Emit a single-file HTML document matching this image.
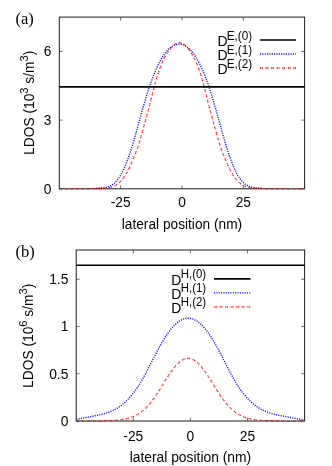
<!DOCTYPE html>
<html><head><meta charset="utf-8"><style>
html,body{margin:0;padding:0;background:#fff;}
svg{display:block;will-change:transform}
text{font-family:"Liberation Sans",sans-serif;fill:#000}
.ser{font-family:"Liberation Serif",serif}
</style></head><body>
<svg width="332" height="466" viewBox="0 0 332 466">
<rect width="332" height="466" fill="#fff"/>
<path d="M96.30,188.24 L96.80,188.22 L97.30,188.21 L97.80,188.19 L98.30,188.17 L98.80,188.15 L99.30,188.13 L99.80,188.11 L100.30,188.08 L100.80,188.05 L101.30,188.02 L101.80,187.98 L102.30,187.93 L102.80,187.88 L103.30,187.83 L103.80,187.76 L104.30,187.69 L104.80,187.61 L105.30,187.52 L105.80,187.41 L106.30,187.30 L106.80,187.17 L107.30,187.04 L107.80,186.88 L108.30,186.72 L108.80,186.53 L109.30,186.33 L109.80,186.12 L110.30,185.88 L110.80,185.63 L111.30,185.35 L111.80,185.06 L112.30,184.74 L112.80,184.40 L113.30,184.03 L113.80,183.64 L114.30,183.22 L114.80,182.77 L115.30,182.29 L115.80,181.78 L116.30,181.25 L116.80,180.68 L117.30,180.08 L117.80,179.44 L118.30,178.77 L118.80,178.07 L119.30,177.33 L119.80,176.56 L120.30,175.75 L120.80,174.90 L121.30,174.02 L121.80,173.10 L122.30,172.14 L122.80,171.15 L123.30,170.12 L123.80,169.05 L124.30,167.94 L124.80,166.80 L125.30,165.62 L125.80,164.41 L126.30,163.15 L126.80,161.87 L127.30,160.54 L127.80,159.19 L128.30,157.79 L128.80,156.37 L129.30,154.91 L129.80,153.42 L130.30,151.90 L130.80,150.35 L131.30,148.78 L131.80,147.17 L132.30,145.54 L132.80,143.88 L133.30,142.21 L133.80,140.51 L134.30,138.79 L134.80,137.05 L135.30,135.30 L135.80,133.53 L136.30,131.76 L136.80,129.97 L137.30,128.17 L137.80,126.37 L138.30,124.57 L138.80,122.76 L139.30,120.96 L139.80,119.15 L140.30,117.35 L140.80,115.56 L141.30,113.77 L141.80,112.00 L142.30,110.23 L142.80,108.47 L143.30,106.73 L143.80,105.00 L144.30,103.29 L144.80,101.59 L145.30,99.91 L145.80,98.25 L146.30,96.61 L146.80,94.99 L147.30,93.39 L147.80,91.82 L148.30,90.26 L148.80,88.73 L149.30,87.23 L149.80,85.75 L150.30,84.30 L150.80,82.87 L151.30,81.47 L151.80,80.09 L152.30,78.74 L152.80,77.42 L153.30,76.13 L153.80,74.86 L154.30,73.62 L154.80,72.40 L155.30,71.22 L155.80,70.06 L156.30,68.92 L156.80,67.82 L157.30,66.74 L157.80,65.68 L158.30,64.65 L158.80,63.65 L159.30,62.68 L159.80,61.73 L160.30,60.80 L160.80,59.91 L161.30,59.03 L161.80,58.19 L162.30,57.37 L162.80,56.58 L163.30,55.81 L163.80,55.06 L164.30,54.35 L164.80,53.65 L165.30,52.99 L165.80,52.34 L166.30,51.73 L166.80,51.13 L167.30,50.57 L167.80,50.02 L168.30,49.51 L168.80,49.01 L169.30,48.54 L169.80,48.10 L170.30,47.68 L170.80,47.28 L171.30,46.91 L171.80,46.57 L172.30,46.24 L172.80,45.94 L173.30,45.67 L173.80,45.42 L174.30,45.19 L174.80,44.98 L175.30,44.80 L175.80,44.64 L176.30,44.51 L176.80,44.40 L177.30,44.31 L177.80,44.24 L178.30,44.20 L178.80,44.18 L179.30,44.18 L179.80,44.18 L180.30,44.21 L180.80,44.26 L181.30,44.34 L181.80,44.44 L182.30,44.56 L182.80,44.70 L183.30,44.87 L183.80,45.06 L184.30,45.28 L184.80,45.51 L185.30,45.77 L185.80,46.06 L186.30,46.37 L186.80,46.70 L187.30,47.06 L187.80,47.44 L188.30,47.85 L188.80,48.27 L189.30,48.73 L189.80,49.21 L190.30,49.71 L190.80,50.24 L191.30,50.79 L191.80,51.37 L192.30,51.97 L192.80,52.60 L193.30,53.25 L193.80,53.93 L194.30,54.63 L194.80,55.36 L195.30,56.11 L195.80,56.89 L196.30,57.69 L196.80,58.52 L197.30,59.38 L197.80,60.26 L198.30,61.17 L198.80,62.10 L199.30,63.06 L199.80,64.05 L200.30,65.06 L200.80,66.10 L201.30,67.16 L201.80,68.26 L202.30,69.37 L202.80,70.52 L203.30,71.69 L203.80,72.89 L204.30,74.11 L204.80,75.36 L205.30,76.64 L205.80,77.95 L206.30,79.28 L206.80,80.64 L207.30,82.03 L207.80,83.44 L208.30,84.88 L208.80,86.34 L209.30,87.83 L209.80,89.34 L210.30,90.88 L210.80,92.44 L211.30,94.03 L211.80,95.63 L212.30,97.26 L212.80,98.91 L213.30,100.58 L213.80,102.27 L214.30,103.97 L214.80,105.69 L215.30,107.42 L215.80,109.17 L216.30,110.93 L216.80,112.71 L217.30,114.49 L217.80,116.28 L218.30,118.07 L218.80,119.88 L219.30,121.68 L219.80,123.49 L220.30,125.29 L220.80,127.09 L221.30,128.89 L221.80,130.68 L222.30,132.47 L222.80,134.24 L223.30,136.00 L223.80,137.75 L224.30,139.48 L224.80,141.19 L225.30,142.88 L225.80,144.55 L226.30,146.20 L226.80,147.82 L227.30,149.41 L227.80,150.98 L228.30,152.51 L228.80,154.02 L229.30,155.50 L229.80,156.94 L230.30,158.36 L230.80,159.73 L231.30,161.08 L231.80,162.39 L232.30,163.66 L232.80,164.90 L233.30,166.10 L233.80,167.26 L234.30,168.39 L234.80,169.48 L235.30,170.53 L235.80,171.55 L236.30,172.53 L236.80,173.47 L237.30,174.38 L237.80,175.24 L238.30,176.08 L238.80,176.87 L239.30,177.63 L239.80,178.35 L240.30,179.04 L240.80,179.70 L241.30,180.32 L241.80,180.91 L242.30,181.47 L242.80,181.99 L243.30,182.49 L243.80,182.95 L244.30,183.39 L244.80,183.80 L245.30,184.18 L245.80,184.54 L246.30,184.87 L246.80,185.18 L247.30,185.47 L247.80,185.73 L248.30,185.98 L248.80,186.21 L249.30,186.42 L249.80,186.61 L250.30,186.79 L250.80,186.95 L251.30,187.09 L251.80,187.23 L252.30,187.35 L252.80,187.46 L253.30,187.55 L253.80,187.64 L254.30,187.72 L254.80,187.79 L255.30,187.85 L255.80,187.90 L256.30,187.95 L256.80,187.99 L257.30,188.03 L257.80,188.06 L258.30,188.09 L258.80,188.12 L259.30,188.14 L259.80,188.16 L260.30,188.18 L260.80,188.20 L261.30,188.21 L261.80,188.23 L262.30,188.25" fill="none" stroke="#0000ff" stroke-width="1.35" stroke-dasharray="1.1,1.25"/>
<rect x="59.3" y="17.1" width="245.30" height="171.70" fill="none" stroke="#1a1a1a" stroke-width="1"/>
<path d="M59.30,189.00 L59.80,189.00 L60.30,189.00 L60.80,189.00 L61.30,189.00 L61.80,189.00 L62.30,189.00 L62.80,189.00 L63.30,189.00 L63.80,189.00 L64.30,189.00 L64.80,189.00 L65.30,189.00 L65.80,189.00 L66.30,189.00 L66.80,189.00 L67.30,189.00 L67.80,189.00 L68.30,189.00 L68.80,189.00 L69.30,189.00 L69.80,189.00 L70.30,189.00 L70.80,189.00 L71.30,189.00 L71.80,189.00 L72.30,189.00 L72.80,189.00 L73.30,189.00 L73.80,189.00 L74.30,189.00 L74.80,189.00 L75.30,189.00 L75.80,189.00 L76.30,189.00 L76.80,189.00 L77.30,189.00 L77.80,189.00 L78.30,189.00 L78.80,189.00 L79.30,189.00 L79.80,189.00 L80.30,189.00 L80.80,189.00 L81.30,189.00 L81.80,189.00 L82.30,189.00 L82.80,189.00 L83.30,189.00 L83.80,189.00 L84.30,189.00 L84.80,189.00 L85.30,189.00 L85.80,189.00 L86.30,189.00 L86.80,189.00 L87.30,189.00 L87.80,189.00 L88.30,189.00 L88.80,188.96 L89.30,188.91 L89.80,188.86 L90.30,188.82 L90.80,188.78 L91.30,188.74 L91.80,188.71 L92.30,188.68 L92.80,188.65 L93.30,188.62 L93.80,188.60 L94.30,188.58 L94.80,188.56 L95.30,188.54 L95.80,188.52 L96.30,188.51 L96.80,188.49 L97.30,188.48 L97.80,188.47 L98.30,188.45 L98.80,188.44 L99.30,188.43 L99.80,188.41 L100.30,188.40 L100.80,188.38 L101.30,188.36 L101.80,188.34 L102.30,188.32 L102.80,188.30 L103.30,188.27 L103.80,188.23 L104.30,188.20 L104.80,188.15 L105.30,188.11 L105.80,188.05 L106.30,188.00 L106.80,187.93 L107.30,187.86 L107.80,187.78 L108.30,187.69 L108.80,187.59 L109.30,187.49 L109.80,187.37 L110.30,187.24 L110.80,187.10 L111.30,186.96 L111.80,186.79 L112.30,186.62 L112.80,186.43 L113.30,186.23 L113.80,186.01 L114.30,185.78 L114.80,185.53 L115.30,185.26 L115.80,184.97 L116.30,184.67 L116.80,184.35 L117.30,184.01 L117.80,183.64 L118.30,183.26 L118.80,182.85 L119.30,182.42 L119.80,181.96 L120.30,181.48 L120.80,180.98 L121.30,180.45 L121.80,179.89 L122.30,179.30 L122.80,178.68 L123.30,178.03 L123.80,177.36 L124.30,176.65 L124.80,175.91 L125.30,175.14 L125.80,174.34 L126.30,173.50 L126.80,172.63 L127.30,171.73 L127.80,170.79 L128.30,169.81 L128.80,168.80 L129.30,167.76 L129.80,166.69 L130.30,165.58 L130.80,164.46 L131.30,163.33 L131.80,162.20 L132.30,161.06 L132.80,159.93 L133.30,158.79 L133.80,157.64 L134.30,156.48 L134.80,155.30 L135.30,154.08 L135.80,152.82 L136.30,151.50 L136.80,150.13 L137.30,148.71 L137.80,147.22 L138.30,145.67 L138.80,144.07 L139.30,142.42 L139.80,140.72 L140.30,139.00 L140.80,137.24 L141.30,135.47 L141.80,133.68 L142.30,131.88 L142.80,130.08 L143.30,128.28 L143.80,126.47 L144.30,124.67 L144.80,122.88 L145.30,121.09 L145.80,119.30 L146.30,117.50 L146.80,115.71 L147.30,113.91 L147.80,112.10 L148.30,110.27 L148.80,108.42 L149.30,106.54 L149.80,104.63 L150.30,102.66 L150.80,100.66 L151.30,98.61 L151.80,96.54 L152.30,94.45 L152.80,92.38 L153.30,90.33 L153.80,88.33 L154.30,86.37 L154.80,84.46 L155.30,82.62 L155.80,80.83 L156.30,79.09 L156.80,77.42 L157.30,75.80 L157.80,74.23 L158.30,72.72 L158.80,71.26 L159.30,69.85 L159.80,68.48 L160.30,67.16 L160.80,65.89 L161.30,64.65 L161.80,63.46 L162.30,62.31 L162.80,61.20 L163.30,60.13 L163.80,59.09 L164.30,58.09 L164.80,57.13 L165.30,56.20 L165.80,55.30 L166.30,54.44 L166.80,53.60 L167.30,52.80 L167.80,52.03 L168.30,51.29 L168.80,50.58 L169.30,49.90 L169.80,49.25 L170.30,48.62 L170.80,48.03 L171.30,47.47 L171.80,46.93 L172.30,46.42 L172.80,45.95 L173.30,45.50 L173.80,45.08 L174.30,44.70 L174.80,44.34 L175.30,44.02 L175.80,43.72 L176.30,43.46 L176.80,43.24 L177.30,43.04 L177.80,42.88 L178.30,42.76 L178.80,42.67 L179.30,42.64 L179.80,42.70 L180.30,42.81 L180.80,42.94 L181.30,43.12 L181.80,43.32 L182.30,43.56 L182.80,43.84 L183.30,44.14 L183.80,44.48 L184.30,44.85 L184.80,45.25 L185.30,45.68 L185.80,46.14 L186.30,46.62 L186.80,47.14 L187.30,47.69 L187.80,48.26 L188.30,48.87 L188.80,49.50 L189.30,50.17 L189.80,50.86 L190.30,51.58 L190.80,52.33 L191.30,53.12 L191.80,53.93 L192.30,54.78 L192.80,55.66 L193.30,56.57 L193.80,57.51 L194.30,58.49 L194.80,59.50 L195.30,60.55 L195.80,61.64 L196.30,62.77 L196.80,63.93 L197.30,65.14 L197.80,66.39 L198.30,67.68 L198.80,69.02 L199.30,70.40 L199.80,71.84 L200.30,73.32 L200.80,74.85 L201.30,76.44 L201.80,78.08 L202.30,79.78 L202.80,81.53 L203.30,83.35 L203.80,85.22 L204.30,87.14 L204.80,89.12 L205.30,91.15 L205.80,93.21 L206.30,95.29 L206.80,97.37 L207.30,99.43 L207.80,101.46 L208.30,103.45 L208.80,105.40 L209.30,107.30 L209.80,109.17 L210.30,111.01 L210.80,112.83 L211.30,114.63 L211.80,116.43 L212.30,118.22 L212.80,120.01 L213.30,121.80 L213.80,123.60 L214.30,125.39 L214.80,127.19 L215.30,129.00 L215.80,130.80 L216.30,132.60 L216.80,134.40 L217.30,136.18 L217.80,137.95 L218.30,139.69 L218.80,141.41 L219.30,143.08 L219.80,144.72 L220.30,146.30 L220.80,147.82 L221.30,149.28 L221.80,150.69 L222.30,152.03 L222.80,153.33 L223.30,154.57 L223.80,155.77 L224.30,156.95 L224.80,158.10 L225.30,159.24 L225.80,160.38 L226.30,161.52 L226.80,162.65 L227.30,163.79 L227.80,164.91 L228.30,166.03 L228.80,167.12 L229.30,168.18 L229.80,169.21 L230.30,170.21 L230.80,171.17 L231.30,172.09 L231.80,172.98 L232.30,173.84 L232.80,174.66 L233.30,175.45 L233.80,176.21 L234.30,176.94 L234.80,177.63 L235.30,178.30 L235.80,178.93 L236.30,179.54 L236.80,180.11 L237.30,180.66 L237.80,181.18 L238.30,181.68 L238.80,182.15 L239.30,182.59 L239.80,183.02 L240.30,183.41 L240.80,183.79 L241.30,184.15 L241.80,184.48 L242.30,184.79 L242.80,185.09 L243.30,185.37 L243.80,185.63 L244.30,185.87 L244.80,186.10 L245.30,186.31 L245.80,186.51 L246.30,186.69 L246.80,186.86 L247.30,187.02 L247.80,187.16 L248.30,187.29 L248.80,187.42 L249.30,187.53 L249.80,187.63 L250.30,187.73 L250.80,187.81 L251.30,187.89 L251.80,187.96 L252.30,188.02 L252.80,188.08 L253.30,188.13 L253.80,188.17 L254.30,188.21 L254.80,188.25 L255.30,188.28 L255.80,188.31 L256.30,188.33 L256.80,188.35 L257.30,188.37 L257.80,188.39 L258.30,188.40 L258.80,188.42 L259.30,188.43 L259.80,188.45 L260.30,188.46 L260.80,188.47 L261.30,188.48 L261.80,188.50 L262.30,188.51 L262.80,188.53 L263.30,188.55 L263.80,188.56 L264.30,188.58 L264.80,188.61 L265.30,188.63 L265.80,188.66 L266.30,188.69 L266.80,188.72 L267.30,188.76 L267.80,188.80 L268.30,188.84 L268.80,188.88 L269.30,188.93 L269.80,188.98 L270.30,189.00 L270.80,189.00 L271.30,189.00 L271.80,189.00 L272.30,189.00 L272.80,189.00 L273.30,189.00 L273.80,189.00 L274.30,189.00 L274.80,189.00 L275.30,189.00 L275.80,189.00 L276.30,189.00 L276.80,189.00 L277.30,189.00 L277.80,189.00 L278.30,189.00 L278.80,189.00 L279.30,189.00 L279.80,189.00 L280.30,189.00 L280.80,189.00 L281.30,189.00 L281.80,189.00 L282.30,189.00 L282.80,189.00 L283.30,189.00 L283.80,189.00 L284.30,189.00 L284.80,189.00 L285.30,189.00 L285.80,189.00 L286.30,189.00 L286.80,189.00 L287.30,189.00 L287.80,189.00 L288.30,189.00 L288.80,189.00 L289.30,189.00 L289.80,189.00 L290.30,189.00 L290.80,189.00 L291.30,189.00 L291.80,189.00 L292.30,189.00 L292.80,189.00 L293.30,189.00 L293.80,189.00 L294.30,189.00 L294.80,189.00 L295.30,189.00 L295.80,189.00 L296.30,189.00 L296.80,189.00 L297.30,189.00 L297.80,189.00 L298.30,189.00 L298.80,189.00 L299.30,189.00 L299.80,189.00 L300.30,189.00 L300.80,189.00 L301.30,189.00 L301.80,189.00 L302.30,189.00 L302.80,189.00 L303.30,189.00 L303.80,189.00 L304.30,189.00" fill="none" stroke="#ff0000" stroke-width="1.2" stroke-dasharray="1.2,0.5,1.2,2.65"/>
<line x1="59.3" x2="304.6" y1="86.85" y2="86.85" stroke="#000" stroke-width="1.6"/>
<path d="M120.62,188.8 v-3.4 M120.62,17.1 v3.4" stroke="#444" stroke-width="0.8"/>
<text transform="translate(120.62,207.20) scale(0.98,1.05)" font-size="14" text-anchor="middle">-25</text>
<path d="M181.95,188.8 v-3.4 M181.95,17.1 v3.4" stroke="#444" stroke-width="0.8"/>
<text transform="translate(181.95,207.20) scale(0.98,1.05)" font-size="14" text-anchor="middle">0</text>
<path d="M243.28,188.8 v-3.4 M243.28,17.1 v3.4" stroke="#444" stroke-width="0.8"/>
<text transform="translate(243.28,207.20) scale(0.98,1.05)" font-size="14" text-anchor="middle">25</text>
<path d="M59.3,188.80 h3.4 M304.6,188.80 h-3.4" stroke="#444" stroke-width="0.8"/>
<text transform="translate(51.50,193.70) scale(0.98,1.05)" font-size="14" text-anchor="end">0</text>
<path d="M59.3,120.12 h3.4 M304.6,120.12 h-3.4" stroke="#444" stroke-width="0.8"/>
<text transform="translate(51.50,125.02) scale(0.98,1.05)" font-size="14" text-anchor="end">3</text>
<path d="M59.3,51.44 h3.4 M304.6,51.44 h-3.4" stroke="#444" stroke-width="0.8"/>
<text transform="translate(51.50,56.34) scale(0.98,1.05)" font-size="14" text-anchor="end">6</text>
<text transform="translate(181.95,228.60) scale(0.98,1.05)" font-size="14" text-anchor="middle">lateral position (nm)</text>
<text transform="translate(34,102.8) rotate(-90) scale(0.985,1.02)" font-size="14" text-anchor="middle">LDOS (10<tspan dy="-6.0" font-size="11.3">3</tspan><tspan dy="6.0"> s/m</tspan><tspan dy="-6.0" font-size="11.3">3</tspan><tspan dy="6.0">)</tspan></text>
<text class="ser" x="15.5" y="23.9" font-size="16.5">(a)</text>
<text transform="translate(217.50,46.40) scale(1.0,1.05)" font-size="14" text-anchor="start">D</text>
<text transform="translate(226.80,40.10) scale(1.02,1.05)" font-size="11.5" text-anchor="start">E,(0)</text>
<line x1="260" x2="296" y1="40.0" y2="40.0" stroke="#000" stroke-width="1.6"/>
<text transform="translate(217.50,60.40) scale(1.0,1.05)" font-size="14" text-anchor="start">D</text>
<text transform="translate(226.80,54.10) scale(1.02,1.05)" font-size="11.5" text-anchor="start">E,(1)</text>
<line x1="260" x2="296" y1="54.0" y2="54.0" stroke="#0000ff" stroke-width="1.3" stroke-dasharray="1.1,1.25"/>
<text transform="translate(217.50,74.40) scale(1.0,1.05)" font-size="14" text-anchor="start">D</text>
<text transform="translate(226.80,68.10) scale(1.02,1.05)" font-size="11.5" text-anchor="start">E,(2)</text>
<line x1="260" x2="296" y1="68.0" y2="68.0" stroke="#ff0000" stroke-width="1.3" stroke-dasharray="1.2,0.5,1.2,2.65"/>
<path d="M76.20,419.26 L76.70,419.18 L77.20,419.09 L77.70,419.00 L78.20,418.91 L78.70,418.82 L79.20,418.73 L79.70,418.64 L80.20,418.55 L80.70,418.45 L81.20,418.36 L81.70,418.27 L82.20,418.18 L82.70,418.08 L83.20,417.99 L83.70,417.90 L84.20,417.81 L84.70,417.71 L85.20,417.62 L85.70,417.53 L86.20,417.44 L86.70,417.34 L87.20,417.25 L87.70,417.16 L88.20,417.07 L88.70,416.97 L89.20,416.88 L89.70,416.79 L90.20,416.70 L90.70,416.61 L91.20,416.51 L91.70,416.42 L92.20,416.33 L92.70,416.24 L93.20,416.14 L93.70,416.05 L94.20,415.95 L94.70,415.86 L95.20,415.76 L95.70,415.66 L96.20,415.56 L96.70,415.46 L97.20,415.36 L97.70,415.26 L98.20,415.15 L98.70,415.05 L99.20,414.94 L99.70,414.83 L100.20,414.71 L100.70,414.60 L101.20,414.48 L101.70,414.36 L102.20,414.23 L102.70,414.11 L103.20,413.97 L103.70,413.84 L104.20,413.70 L104.70,413.56 L105.20,413.41 L105.70,413.26 L106.20,413.10 L106.70,412.94 L107.20,412.77 L107.70,412.60 L108.20,412.42 L108.70,412.24 L109.20,412.05 L109.70,411.86 L110.20,411.66 L110.70,411.45 L111.20,411.24 L111.70,411.02 L112.20,410.80 L112.70,410.56 L113.20,410.32 L113.70,410.08 L114.20,409.82 L114.70,409.56 L115.20,409.29 L115.70,409.01 L116.20,408.73 L116.70,408.43 L117.20,408.13 L117.70,407.82 L118.20,407.50 L118.70,407.17 L119.20,406.84 L119.70,406.49 L120.20,406.14 L120.70,405.77 L121.20,405.40 L121.70,405.02 L122.20,404.62 L122.70,404.22 L123.20,403.81 L123.70,403.39 L124.20,402.95 L124.70,402.51 L125.20,402.06 L125.70,401.59 L126.20,401.12 L126.70,400.63 L127.20,400.14 L127.70,399.63 L128.20,399.11 L128.70,398.58 L129.20,398.04 L129.70,397.49 L130.20,396.92 L130.70,396.35 L131.20,395.76 L131.70,395.16 L132.20,394.55 L132.70,393.92 L133.20,393.29 L133.70,392.64 L134.20,391.98 L134.70,391.30 L135.20,390.62 L135.70,389.92 L136.20,389.21 L136.70,388.48 L137.20,387.75 L137.70,387.00 L138.20,386.23 L138.70,385.46 L139.20,384.67 L139.70,383.87 L140.20,383.06 L140.70,382.24 L141.20,381.40 L141.70,380.55 L142.20,379.70 L142.70,378.83 L143.20,377.95 L143.70,377.06 L144.20,376.16 L144.70,375.25 L145.20,374.33 L145.70,373.40 L146.20,372.47 L146.70,371.52 L147.20,370.57 L147.70,369.62 L148.20,368.66 L148.70,367.69 L149.20,366.72 L149.70,365.74 L150.20,364.77 L150.70,363.79 L151.20,362.80 L151.70,361.82 L152.20,360.84 L152.70,359.86 L153.20,358.88 L153.70,357.90 L154.20,356.92 L154.70,355.95 L155.20,354.98 L155.70,354.02 L156.20,353.06 L156.70,352.11 L157.20,351.16 L157.70,350.22 L158.20,349.29 L158.70,348.36 L159.20,347.44 L159.70,346.54 L160.20,345.64 L160.70,344.75 L161.20,343.87 L161.70,343.00 L162.20,342.14 L162.70,341.29 L163.20,340.45 L163.70,339.63 L164.20,338.82 L164.70,338.02 L165.20,337.23 L165.70,336.46 L166.20,335.69 L166.70,334.95 L167.20,334.21 L167.70,333.49 L168.20,332.79 L168.70,332.09 L169.20,331.42 L169.70,330.76 L170.20,330.11 L170.70,329.48 L171.20,328.86 L171.70,328.26 L172.20,327.68 L172.70,327.11 L173.20,326.56 L173.70,326.02 L174.20,325.50 L174.70,325.00 L175.20,324.51 L175.70,324.04 L176.20,323.59 L176.70,323.16 L177.20,322.74 L177.70,322.34 L178.20,321.96 L178.70,321.60 L179.20,321.25 L179.70,320.93 L180.20,320.62 L180.70,320.33 L181.20,320.05 L181.70,319.80 L182.20,319.56 L182.70,319.35 L183.20,319.15 L183.70,318.97 L184.20,318.81 L184.70,318.67 L185.20,318.54 L185.70,318.44 L186.20,318.35 L186.70,318.29 L187.20,318.24 L187.70,318.21 L188.20,318.20 L188.70,318.21 L189.20,318.24 L189.70,318.29 L190.20,318.35 L190.70,318.44 L191.20,318.54 L191.70,318.67 L192.20,318.81 L192.70,318.97 L193.20,319.15 L193.70,319.35 L194.20,319.56 L194.70,319.80 L195.20,320.05 L195.70,320.33 L196.20,320.62 L196.70,320.93 L197.20,321.25 L197.70,321.60 L198.20,321.96 L198.70,322.34 L199.20,322.74 L199.70,323.16 L200.20,323.59 L200.70,324.04 L201.20,324.51 L201.70,325.00 L202.20,325.50 L202.70,326.02 L203.20,326.56 L203.70,327.11 L204.20,327.68 L204.70,328.26 L205.20,328.86 L205.70,329.48 L206.20,330.11 L206.70,330.76 L207.20,331.42 L207.70,332.09 L208.20,332.79 L208.70,333.49 L209.20,334.21 L209.70,334.95 L210.20,335.69 L210.70,336.46 L211.20,337.23 L211.70,338.02 L212.20,338.82 L212.70,339.63 L213.20,340.45 L213.70,341.29 L214.20,342.14 L214.70,343.00 L215.20,343.87 L215.70,344.75 L216.20,345.64 L216.70,346.54 L217.20,347.44 L217.70,348.36 L218.20,349.29 L218.70,350.22 L219.20,351.16 L219.70,352.11 L220.20,353.06 L220.70,354.02 L221.20,354.98 L221.70,355.95 L222.20,356.92 L222.70,357.90 L223.20,358.88 L223.70,359.86 L224.20,360.84 L224.70,361.82 L225.20,362.80 L225.70,363.79 L226.20,364.77 L226.70,365.74 L227.20,366.72 L227.70,367.69 L228.20,368.66 L228.70,369.62 L229.20,370.57 L229.70,371.52 L230.20,372.47 L230.70,373.40 L231.20,374.33 L231.70,375.25 L232.20,376.16 L232.70,377.06 L233.20,377.95 L233.70,378.83 L234.20,379.70 L234.70,380.55 L235.20,381.40 L235.70,382.24 L236.20,383.06 L236.70,383.87 L237.20,384.67 L237.70,385.46 L238.20,386.23 L238.70,387.00 L239.20,387.75 L239.70,388.48 L240.20,389.21 L240.70,389.92 L241.20,390.62 L241.70,391.30 L242.20,391.98 L242.70,392.64 L243.20,393.29 L243.70,393.92 L244.20,394.55 L244.70,395.16 L245.20,395.76 L245.70,396.35 L246.20,396.92 L246.70,397.49 L247.20,398.04 L247.70,398.58 L248.20,399.11 L248.70,399.63 L249.20,400.14 L249.70,400.63 L250.20,401.12 L250.70,401.59 L251.20,402.06 L251.70,402.51 L252.20,402.95 L252.70,403.39 L253.20,403.81 L253.70,404.22 L254.20,404.62 L254.70,405.02 L255.20,405.40 L255.70,405.77 L256.20,406.14 L256.70,406.49 L257.20,406.84 L257.70,407.17 L258.20,407.50 L258.70,407.82 L259.20,408.13 L259.70,408.43 L260.20,408.73 L260.70,409.01 L261.20,409.29 L261.70,409.56 L262.20,409.82 L262.70,410.08 L263.20,410.32 L263.70,410.56 L264.20,410.80 L264.70,411.02 L265.20,411.24 L265.70,411.45 L266.20,411.66 L266.70,411.86 L267.20,412.05 L267.70,412.24 L268.20,412.42 L268.70,412.60 L269.20,412.77 L269.70,412.94 L270.20,413.10 L270.70,413.26 L271.20,413.41 L271.70,413.56 L272.20,413.70 L272.70,413.84 L273.20,413.97 L273.70,414.11 L274.20,414.23 L274.70,414.36 L275.20,414.48 L275.70,414.60 L276.20,414.71 L276.70,414.83 L277.20,414.94 L277.70,415.05 L278.20,415.15 L278.70,415.26 L279.20,415.36 L279.70,415.46 L280.20,415.56 L280.70,415.66 L281.20,415.76 L281.70,415.86 L282.20,415.95 L282.70,416.05 L283.20,416.14 L283.70,416.24 L284.20,416.33 L284.70,416.42 L285.20,416.51 L285.70,416.61 L286.20,416.70 L286.70,416.79 L287.20,416.88 L287.70,416.97 L288.20,417.07 L288.70,417.16 L289.20,417.25 L289.70,417.34 L290.20,417.44 L290.70,417.53 L291.20,417.62 L291.70,417.71 L292.20,417.81 L292.70,417.90 L293.20,417.99 L293.70,418.08 L294.20,418.18 L294.70,418.27 L295.20,418.36 L295.70,418.45 L296.20,418.55 L296.70,418.64 L297.20,418.73 L297.70,418.82 L298.20,418.91 L298.70,419.00 L299.20,419.09 L299.70,419.18 L300.20,419.26 L300.70,419.35 L301.20,419.43 L301.70,419.52 L302.20,419.60 L302.70,419.68 L303.20,419.75 L303.70,419.83 L304.20,419.90" fill="none" stroke="#0000ff" stroke-width="1.35" stroke-dasharray="1.1,1.25"/>
<rect x="76.2" y="250.0" width="228.40" height="171.00" fill="none" stroke="#1a1a1a" stroke-width="1"/>
<path d="M76.20,421.40 L76.70,421.40 L77.20,421.40 L77.70,421.40 L78.20,421.40 L78.70,421.40 L79.20,421.40 L79.70,421.40 L80.20,421.40 L80.70,421.40 L81.20,421.40 L81.70,421.40 L82.20,421.40 L82.70,421.40 L83.20,421.40 L83.70,421.40 L84.20,421.40 L84.70,421.40 L85.20,421.40 L85.70,421.40 L86.20,421.40 L86.70,421.40 L87.20,421.40 L87.70,421.40 L88.20,421.40 L88.70,421.40 L89.20,421.40 L89.70,421.40 L90.20,421.40 L90.70,421.40 L91.20,421.40 L91.70,421.40 L92.20,421.37 L92.70,421.34 L93.20,421.31 L93.70,421.29 L94.20,421.26 L94.70,421.24 L95.20,421.21 L95.70,421.19 L96.20,421.16 L96.70,421.14 L97.20,421.12 L97.70,421.10 L98.20,421.08 L98.70,421.05 L99.20,421.03 L99.70,421.01 L100.20,420.99 L100.70,420.97 L101.20,420.95 L101.70,420.94 L102.20,420.92 L102.70,420.90 L103.20,420.88 L103.70,420.86 L104.20,420.84 L104.70,420.83 L105.20,420.81 L105.70,420.79 L106.20,420.77 L106.70,420.75 L107.20,420.73 L107.70,420.71 L108.20,420.69 L108.70,420.67 L109.20,420.65 L109.70,420.63 L110.20,420.61 L110.70,420.58 L111.20,420.56 L111.70,420.53 L112.20,420.51 L112.70,420.48 L113.20,420.45 L113.70,420.42 L114.20,420.38 L114.70,420.35 L115.20,420.31 L115.70,420.27 L116.20,420.23 L116.70,420.19 L117.20,420.15 L117.70,420.10 L118.20,420.05 L118.70,419.99 L119.20,419.94 L119.70,419.88 L120.20,419.82 L120.70,419.75 L121.20,419.68 L121.70,419.61 L122.20,419.53 L122.70,419.45 L123.20,419.37 L123.70,419.28 L124.20,419.19 L124.70,419.09 L125.20,418.99 L125.70,418.88 L126.20,418.77 L126.70,418.65 L127.20,418.53 L127.70,418.40 L128.20,418.26 L128.70,418.12 L129.20,417.98 L129.70,417.82 L130.20,417.66 L130.70,417.49 L131.20,417.32 L131.70,417.14 L132.20,416.95 L132.70,416.75 L133.20,416.55 L133.70,416.33 L134.20,416.11 L134.70,415.88 L135.20,415.64 L135.70,415.40 L136.20,415.14 L136.70,414.87 L137.20,414.60 L137.70,414.31 L138.20,414.01 L138.70,413.70 L139.20,413.39 L139.70,413.06 L140.20,412.72 L140.70,412.36 L141.20,412.00 L141.70,411.62 L142.20,411.24 L142.70,410.83 L143.20,410.42 L143.70,409.99 L144.20,409.55 L144.70,409.10 L145.20,408.63 L145.70,408.15 L146.20,407.66 L146.70,407.15 L147.20,406.63 L147.70,406.09 L148.20,405.54 L148.70,404.98 L149.20,404.40 L149.70,403.81 L150.20,403.21 L150.70,402.59 L151.20,401.96 L151.70,401.32 L152.20,400.67 L152.70,400.00 L153.20,399.32 L153.70,398.63 L154.20,397.93 L154.70,397.22 L155.20,396.50 L155.70,395.76 L156.20,395.02 L156.70,394.27 L157.20,393.51 L157.70,392.74 L158.20,391.96 L158.70,391.18 L159.20,390.39 L159.70,389.59 L160.20,388.79 L160.70,387.99 L161.20,387.18 L161.70,386.37 L162.20,385.56 L162.70,384.74 L163.20,383.92 L163.70,383.11 L164.20,382.29 L164.70,381.48 L165.20,380.67 L165.70,379.87 L166.20,379.06 L166.70,378.27 L167.20,377.48 L167.70,376.70 L168.20,375.92 L168.70,375.16 L169.20,374.40 L169.70,373.65 L170.20,372.92 L170.70,372.19 L171.20,371.48 L171.70,370.78 L172.20,370.09 L172.70,369.42 L173.20,368.76 L173.70,368.12 L174.20,367.50 L174.70,366.89 L175.20,366.29 L175.70,365.72 L176.20,365.16 L176.70,364.62 L177.20,364.11 L177.70,363.61 L178.20,363.13 L178.70,362.67 L179.20,362.23 L179.70,361.81 L180.20,361.42 L180.70,361.04 L181.20,360.69 L181.70,360.36 L182.20,360.06 L182.70,359.78 L183.20,359.52 L183.70,359.28 L184.20,359.07 L184.70,358.89 L185.20,358.72 L185.70,358.59 L186.20,358.47 L186.70,358.39 L187.20,358.32 L187.70,358.29 L188.20,358.28 L188.70,358.30 L189.20,358.34 L189.70,358.42 L190.20,358.51 L190.70,358.64 L191.20,358.78 L191.70,358.96 L192.20,359.15 L192.70,359.37 L193.20,359.62 L193.70,359.89 L194.20,360.18 L194.70,360.49 L195.20,360.83 L195.70,361.19 L196.20,361.57 L196.70,361.98 L197.20,362.40 L197.70,362.85 L198.20,363.32 L198.70,363.80 L199.20,364.31 L199.70,364.84 L200.20,365.38 L200.70,365.95 L201.20,366.53 L201.70,367.13 L202.20,367.74 L202.70,368.38 L203.20,369.02 L203.70,369.69 L204.20,370.37 L204.70,371.06 L205.20,371.76 L205.70,372.48 L206.20,373.21 L206.70,373.95 L207.20,374.70 L207.70,375.46 L208.20,376.23 L208.70,377.01 L209.20,377.79 L209.70,378.59 L210.20,379.38 L210.70,380.19 L211.20,381.00 L211.70,381.81 L212.20,382.62 L212.70,383.43 L213.20,384.25 L213.70,385.07 L214.20,385.88 L214.70,386.69 L215.20,387.50 L215.70,388.31 L216.20,389.11 L216.70,389.91 L217.20,390.71 L217.70,391.49 L218.20,392.27 L218.70,393.05 L219.20,393.81 L219.70,394.57 L220.20,395.32 L220.70,396.06 L221.20,396.79 L221.70,397.50 L222.20,398.21 L222.70,398.91 L223.20,399.60 L223.70,400.27 L224.20,400.93 L224.70,401.58 L225.20,402.22 L225.70,402.84 L226.20,403.45 L226.70,404.05 L227.20,404.64 L227.70,405.21 L228.20,405.76 L228.70,406.31 L229.20,406.84 L229.70,407.35 L230.20,407.86 L230.70,408.35 L231.20,408.82 L231.70,409.28 L232.20,409.73 L232.70,410.17 L233.20,410.59 L233.70,411.00 L234.20,411.39 L234.70,411.78 L235.20,412.15 L235.70,412.51 L236.20,412.85 L236.70,413.19 L237.20,413.51 L237.70,413.83 L238.20,414.13 L238.70,414.42 L239.20,414.71 L239.70,414.98 L240.20,415.24 L240.70,415.50 L241.20,415.74 L241.70,415.98 L242.20,416.20 L242.70,416.42 L243.20,416.63 L243.70,416.83 L244.20,417.03 L244.70,417.21 L245.20,417.39 L245.70,417.56 L246.20,417.73 L246.70,417.88 L247.20,418.03 L247.70,418.18 L248.20,418.32 L248.70,418.45 L249.20,418.58 L249.70,418.70 L250.20,418.81 L250.70,418.92 L251.20,419.03 L251.70,419.13 L252.20,419.23 L252.70,419.32 L253.20,419.40 L253.70,419.49 L254.20,419.57 L254.70,419.64 L255.20,419.71 L255.70,419.78 L256.20,419.84 L256.70,419.90 L257.20,419.96 L257.70,420.02 L258.20,420.07 L258.70,420.12 L259.20,420.16 L259.70,420.21 L260.20,420.25 L260.70,420.29 L261.20,420.33 L261.70,420.36 L262.20,420.40 L262.70,420.43 L263.20,420.46 L263.70,420.49 L264.20,420.52 L264.70,420.54 L265.20,420.57 L265.70,420.59 L266.20,420.62 L266.70,420.64 L267.20,420.66 L267.70,420.68 L268.20,420.70 L268.70,420.72 L269.20,420.74 L269.70,420.76 L270.20,420.78 L270.70,420.80 L271.20,420.82 L271.70,420.83 L272.20,420.85 L272.70,420.87 L273.20,420.89 L273.70,420.91 L274.20,420.92 L274.70,420.94 L275.20,420.96 L275.70,420.98 L276.20,421.00 L276.70,421.02 L277.20,421.04 L277.70,421.06 L278.20,421.08 L278.70,421.11 L279.20,421.13 L279.70,421.15 L280.20,421.17 L280.70,421.20 L281.20,421.22 L281.70,421.25 L282.20,421.27 L282.70,421.30 L283.20,421.33 L283.70,421.35 L284.20,421.38 L284.70,421.40 L285.20,421.40 L285.70,421.40 L286.20,421.40 L286.70,421.40 L287.20,421.40 L287.70,421.40 L288.20,421.40 L288.70,421.40 L289.20,421.40 L289.70,421.40 L290.20,421.40 L290.70,421.40 L291.20,421.40 L291.70,421.40 L292.20,421.40 L292.70,421.40 L293.20,421.40 L293.70,421.40 L294.20,421.40 L294.70,421.40 L295.20,421.40 L295.70,421.40 L296.20,421.40 L296.70,421.40 L297.20,421.40 L297.70,421.40 L298.20,421.40 L298.70,421.40 L299.20,421.40 L299.70,421.40 L300.20,421.40 L300.70,421.40 L301.20,421.40 L301.70,421.40 L302.20,421.40 L302.70,421.40 L303.20,421.40 L303.70,421.40 L304.20,421.40" fill="none" stroke="#ff0000" stroke-width="1.2" stroke-dasharray="1.2,0.5,1.2,2.65"/>
<line x1="76.2" x2="304.6" y1="265.3" y2="265.3" stroke="#000" stroke-width="1.6"/>
<path d="M133.30,421.0 v-3.4 M133.30,250.0 v3.4" stroke="#444" stroke-width="0.8"/>
<text transform="translate(133.30,440.70) scale(0.99,1.05)" font-size="14" text-anchor="middle">-25</text>
<path d="M190.40,421.0 v-3.4 M190.40,250.0 v3.4" stroke="#444" stroke-width="0.8"/>
<text transform="translate(190.40,440.70) scale(0.99,1.05)" font-size="14" text-anchor="middle">0</text>
<path d="M247.50,421.0 v-3.4 M247.50,250.0 v3.4" stroke="#444" stroke-width="0.8"/>
<text transform="translate(247.50,440.70) scale(0.99,1.05)" font-size="14" text-anchor="middle">25</text>
<path d="M76.2,421.00 h3.4 M304.6,421.00 h-3.4" stroke="#444" stroke-width="0.8"/>
<text transform="translate(68.40,425.90) scale(0.99,1.05)" font-size="14" text-anchor="end">0</text>
<path d="M76.2,373.76 h3.4 M304.6,373.76 h-3.4" stroke="#444" stroke-width="0.8"/>
<text transform="translate(68.40,378.66) scale(0.99,1.05)" font-size="14" text-anchor="end">0.5</text>
<path d="M76.2,326.52 h3.4 M304.6,326.52 h-3.4" stroke="#444" stroke-width="0.8"/>
<text transform="translate(68.40,331.42) scale(0.99,1.05)" font-size="14" text-anchor="end">1</text>
<path d="M76.2,279.29 h3.4 M304.6,279.29 h-3.4" stroke="#444" stroke-width="0.8"/>
<text transform="translate(68.40,284.19) scale(0.99,1.05)" font-size="14" text-anchor="end">1.5</text>
<text transform="translate(190.40,461.50) scale(0.99,1.05)" font-size="14" text-anchor="middle">lateral position (nm)</text>
<text transform="translate(33,335.8) rotate(-90) scale(0.985,1.02)" font-size="14" text-anchor="middle">LDOS (10<tspan dy="-6.0" font-size="11.3">6</tspan><tspan dy="6.0"> s/m</tspan><tspan dy="-6.0" font-size="11.3">3</tspan><tspan dy="6.0">)</tspan></text>
<text class="ser" x="15.5" y="256.6" font-size="16.5">(b)</text>
<text transform="translate(171.30,284.70) scale(1.0,1.05)" font-size="14" text-anchor="start">D</text>
<text transform="translate(180.70,278.40) scale(0.995,1.05)" font-size="11.5" text-anchor="start">H,(0)</text>
<line x1="214" x2="250.5" y1="278.9" y2="278.9" stroke="#000" stroke-width="1.6"/>
<text transform="translate(171.30,298.70) scale(1.0,1.05)" font-size="14" text-anchor="start">D</text>
<text transform="translate(180.70,292.40) scale(0.995,1.05)" font-size="11.5" text-anchor="start">H,(1)</text>
<line x1="214" x2="250.5" y1="292.9" y2="292.9" stroke="#0000ff" stroke-width="1.3" stroke-dasharray="1.1,1.25"/>
<text transform="translate(171.30,312.70) scale(1.0,1.05)" font-size="14" text-anchor="start">D</text>
<text transform="translate(180.70,306.40) scale(0.995,1.05)" font-size="11.5" text-anchor="start">H,(2)</text>
<line x1="214" x2="250.5" y1="306.9" y2="306.9" stroke="#ff0000" stroke-width="1.3" stroke-dasharray="1.2,0.5,1.2,2.65"/>
</svg></body></html>
